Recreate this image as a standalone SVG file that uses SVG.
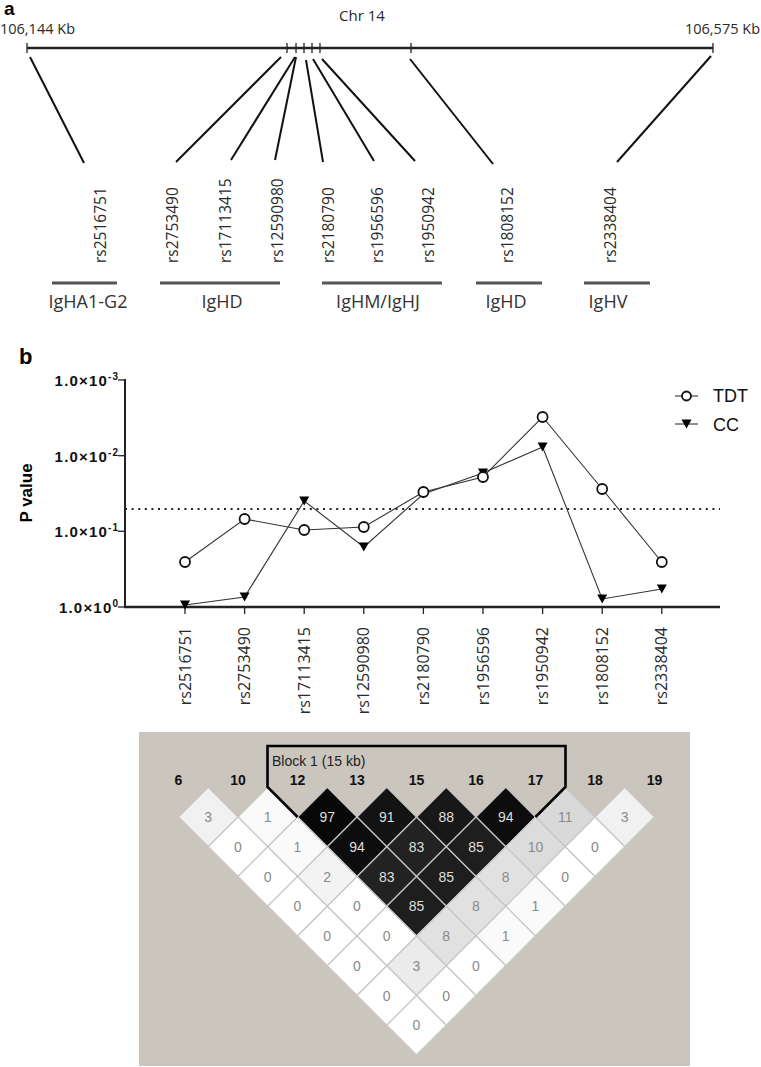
<svg xmlns="http://www.w3.org/2000/svg" xmlns:xlink="http://www.w3.org/1999/xlink" width="761" height="1067" viewBox="0 0 761 1067">
<style>
.lbl{font-family:"Open Sans","Liberation Sans",sans-serif;fill:#2a2a2a}
.snp{font-size:15.5px}
.gene{font-size:18px;fill:#333;text-anchor:middle}
.panel{font-family:"Liberation Sans",Arial,sans-serif;font-weight:bold;fill:#000}
.ytk{font-family:"Liberation Sans",Arial,sans-serif;font-weight:bold;font-size:15px;letter-spacing:1.2px;text-anchor:end;fill:#111}
.sup{font-size:10px;letter-spacing:1px}
.conn{stroke:#111;stroke-width:2;fill:none}
.tick{stroke:#222;stroke-width:1.3}
.gbar{stroke:#555;stroke-width:3}
.data{stroke:#333;stroke-width:1.1;fill:none}
.circ{fill:#fff;stroke:#111;stroke-width:1.8}
.mk{font-family:"Liberation Sans",Arial,sans-serif;font-weight:bold;font-size:14px;text-anchor:middle;fill:#111}
.ldw{font-family:"Liberation Sans",Arial,sans-serif;font-size:14px;text-anchor:middle;fill:#8a8a8a}
.ldb{font-family:"Liberation Sans",Arial,sans-serif;font-size:14px;text-anchor:middle;fill:#dedede}
.cell{stroke:#c6c6c6;stroke-width:1.2}
</style>
<defs>
<path id="dm" d="M0,-29.75 L29.75,0 L0,29.75 L-29.75,0Z"/>
<path id="tri" d="M-5,-4.5 L5,-4.5 L0,4.5Z" fill="#000"/>
</defs>
<rect width="761" height="1067" fill="#fff"/>

<!-- Panel a -->
<g id="panel-a">
<text class="panel" x="4" y="15" font-size="19">a</text>
<text class="lbl" x="362" y="21" font-size="15" text-anchor="middle" fill="#333">Chr 14</text>
<text class="lbl" x="0" y="34" font-size="14.5" fill="#555">106,144 Kb</text>
<text class="lbl" x="760" y="34" font-size="14.5" fill="#555" text-anchor="end">106,575 Kb</text>
<g id="chromosome">
<line x1="27" y1="48" x2="713" y2="48" stroke="#222" stroke-width="2.6"/>
<line class="tick" x1="27" y1="43" x2="27" y2="53"/>
<line class="tick" x1="287" y1="43" x2="287" y2="53"/>
<line class="tick" x1="296" y1="43" x2="296" y2="53"/>
<line class="tick" x1="304" y1="43" x2="304" y2="53"/>
<line class="tick" x1="312" y1="43" x2="312" y2="53"/>
<line class="tick" x1="320" y1="43" x2="320" y2="53"/>
<line class="tick" x1="411" y1="43" x2="411" y2="53"/>
<line class="tick" x1="713" y1="43" x2="713" y2="53"/>
</g>
<g id="connectors-a">
<line class="conn" x1="30" y1="57" x2="84" y2="163"/>
<line class="conn" x1="281" y1="57" x2="176" y2="162"/>
<line class="conn" x1="295" y1="57" x2="231" y2="160"/>
<line class="conn" x1="296" y1="57" x2="275" y2="160"/>
<line class="conn" x1="306" y1="60" x2="323" y2="162"/>
<line class="conn" x1="313" y1="59" x2="374" y2="161"/>
<line class="conn" x1="322" y1="59" x2="415" y2="161"/>
<line class="conn" x1="410" y1="59" x2="493" y2="164"/>
<line class="conn" x1="711" y1="56" x2="617" y2="162"/>
</g>
<g id="snp-labels-a" class="lbl snp">
<text transform="translate(105.5,263) rotate(-90)">rs2516751</text>
<text transform="translate(177.5,263) rotate(-90)">rs2753490</text>
<text transform="translate(230.5,263) rotate(-90)">rs17113415</text>
<text transform="translate(282.5,263) rotate(-90)">rs12590980</text>
<text transform="translate(333.5,263) rotate(-90)">rs2180790</text>
<text transform="translate(382.5,263) rotate(-90)">rs1956596</text>
<text transform="translate(433.5,263) rotate(-90)">rs1950942</text>
<text transform="translate(512.5,263) rotate(-90)">rs1808152</text>
<text transform="translate(615.5,263) rotate(-90)">rs2338404</text>
</g>
<g id="genes">
<g id="gene-IgHA1-G2"><line class="gbar" x1="52" y1="283" x2="117" y2="283"/><text class="lbl gene" x="88" y="308">IgHA1-G2</text></g>
<g id="gene-IgHD-1"><line class="gbar" x1="160" y1="283" x2="280" y2="283"/><text class="lbl gene" x="222" y="308">IgHD</text></g>
<g id="gene-IgHM-IgHJ"><line class="gbar" x1="322" y1="283" x2="442" y2="283"/><text class="lbl gene" x="378" y="308">IgHM/IgHJ</text></g>
<g id="gene-IgHD-2"><line class="gbar" x1="476" y1="283" x2="542" y2="283"/><text class="lbl gene" x="506" y="308">IgHD</text></g>
<g id="gene-IgHV"><line class="gbar" x1="584" y1="283" x2="650" y2="283"/><text class="lbl gene" x="608" y="308">IgHV</text></g>
</g>
</g>

<!-- Panel b -->
<g id="panel-b">
<text class="panel" x="19" y="364" font-size="22">b</text>
<g id="axes">
<line x1="125" y1="379" x2="125" y2="608" stroke="#222" stroke-width="2"/>
<line x1="124" y1="607" x2="720" y2="607" stroke="#222" stroke-width="2.6"/>
<line class="tick" x1="118" y1="380" x2="125" y2="380"/>
<line class="tick" x1="118" y1="455.7" x2="125" y2="455.7"/>
<line class="tick" x1="118" y1="531.3" x2="125" y2="531.3"/>
<line class="tick" x1="118" y1="607" x2="125" y2="607"/>
<g id="xticks">
<line class="tick" x1="185" y1="607" x2="185" y2="614"/>
<line class="tick" x1="244.6" y1="607" x2="244.6" y2="614"/>
<line class="tick" x1="304.2" y1="607" x2="304.2" y2="614"/>
<line class="tick" x1="363.8" y1="607" x2="363.8" y2="614"/>
<line class="tick" x1="423.4" y1="607" x2="423.4" y2="614"/>
<line class="tick" x1="483" y1="607" x2="483" y2="614"/>
<line class="tick" x1="542.6" y1="607" x2="542.6" y2="614"/>
<line class="tick" x1="602.2" y1="607" x2="602.2" y2="614"/>
<line class="tick" x1="661.8" y1="607" x2="661.8" y2="614"/>
</g>
<text class="ytk" x="119" y="386">1.0×10<tspan class="sup" dy="-6">-3</tspan></text>
<text class="ytk" x="119" y="461.7">1.0×10<tspan class="sup" dy="-6">-2</tspan></text>
<text class="ytk" x="119" y="537.3">1.0×10<tspan class="sup" dy="-6">-1</tspan></text>
<text class="ytk" x="119" y="613">1.0×10<tspan class="sup" dy="-6">0</tspan></text>
<text class="panel" font-size="17" text-anchor="middle" transform="translate(32,493) rotate(-90)">P value</text>
</g>
<line id="threshold" x1="125" y1="509" x2="720" y2="509" stroke="#222" stroke-width="2" stroke-dasharray="2,4.6"/>
<g id="series-CC">
<polyline class="data" points="185,605 244.6,597 304.2,501 363.8,547 423.4,494 483,473 542.6,447 602.2,599 661.8,589"/>
<use xlink:href="#tri" x="185" y="605"/>
<use xlink:href="#tri" x="244.6" y="597"/>
<use xlink:href="#tri" x="304.2" y="501"/>
<use xlink:href="#tri" x="363.8" y="547"/>
<use xlink:href="#tri" x="423.4" y="494"/>
<use xlink:href="#tri" x="483" y="473"/>
<use xlink:href="#tri" x="542.6" y="447"/>
<use xlink:href="#tri" x="602.2" y="599"/>
<use xlink:href="#tri" x="661.8" y="589"/>
</g>
<g id="series-TDT">
<polyline class="data" points="185,562 244.6,519 304.2,530 363.8,527 423.4,492 483,477 542.6,417 602.2,489 661.8,562"/>
<circle class="circ" cx="185" cy="562" r="5"/>
<circle class="circ" cx="244.6" cy="519" r="5"/>
<circle class="circ" cx="304.2" cy="530" r="5"/>
<circle class="circ" cx="363.8" cy="527" r="5"/>
<circle class="circ" cx="423.4" cy="492" r="5"/>
<circle class="circ" cx="483" cy="477" r="5"/>
<circle class="circ" cx="542.6" cy="417" r="5"/>
<circle class="circ" cx="602.2" cy="489" r="5"/>
<circle class="circ" cx="661.8" cy="562" r="5"/>
</g>
<g id="legend">
<line class="data" x1="675" y1="396" x2="698" y2="396"/>
<circle class="circ" cx="686.5" cy="396" r="4.5"/>
<text x="713" y="402" font-family="Liberation Sans,Arial,sans-serif" font-size="18" fill="#111">TDT</text>
<line class="data" x1="675" y1="424" x2="698" y2="424"/>
<use xlink:href="#tri" x="686.5" y="424"/>
<text x="713" y="431" font-family="Liberation Sans,Arial,sans-serif" font-size="18" fill="#111">CC</text>
</g>
<g id="snp-labels-b" class="lbl" font-size="16" text-anchor="end">
<text transform="translate(190.5,627) rotate(-90)">rs2516751</text>
<text transform="translate(250.1,627) rotate(-90)">rs2753490</text>
<text transform="translate(309.7,627) rotate(-90)">rs17113415</text>
<text transform="translate(369.3,627) rotate(-90)">rs12590980</text>
<text transform="translate(428.9,627) rotate(-90)">rs2180790</text>
<text transform="translate(488.5,627) rotate(-90)">rs1956596</text>
<text transform="translate(548.1,627) rotate(-90)">rs1950942</text>
<text transform="translate(607.7,627) rotate(-90)">rs1808152</text>
<text transform="translate(667.3,627) rotate(-90)">rs2338404</text>
</g>
</g>

<!-- LD plot -->
<g id="ld-plot">
<rect x="139" y="732" width="551" height="334" fill="#cac6bd"/>
<g id="markers">
<text class="mk" x="178.5" y="785">6</text>
<text class="mk" x="238" y="785">10</text>
<text class="mk" x="297.5" y="785">12</text>
<text class="mk" x="357" y="785">13</text>
<text class="mk" x="416.5" y="785">15</text>
<text class="mk" x="476" y="785">16</text>
<text class="mk" x="535.5" y="785">17</text>
<text class="mk" x="595" y="785">18</text>
<text class="mk" x="654.5" y="785">19</text>
</g>
<g id="cells" class="cell">
<use xlink:href="#dm" x="208.25" y="817" fill="#f1f1f1"/>
<use xlink:href="#dm" x="267.75" y="817" fill="#fafafa"/>
<use xlink:href="#dm" x="327.25" y="817" fill="#080808"/>
<use xlink:href="#dm" x="386.75" y="817" fill="#131313"/>
<use xlink:href="#dm" x="446.25" y="817" fill="#181818"/>
<use xlink:href="#dm" x="505.75" y="817" fill="#0d0d0d"/>
<use xlink:href="#dm" x="565.25" y="817" fill="#d9d9d9"/>
<use xlink:href="#dm" x="624.75" y="817" fill="#f1f1f1"/>
<use xlink:href="#dm" x="238" y="846.75" fill="#ffffff"/>
<use xlink:href="#dm" x="297.5" y="846.75" fill="#fafafa"/>
<use xlink:href="#dm" x="357" y="846.75" fill="#0d0d0d"/>
<use xlink:href="#dm" x="416.5" y="846.75" fill="#222222"/>
<use xlink:href="#dm" x="476" y="846.75" fill="#1e1e1e"/>
<use xlink:href="#dm" x="535.5" y="846.75" fill="#dcdcdc"/>
<use xlink:href="#dm" x="595" y="846.75" fill="#ffffff"/>
<use xlink:href="#dm" x="267.75" y="876.5" fill="#ffffff"/>
<use xlink:href="#dm" x="327.25" y="876.5" fill="#f3f3f3"/>
<use xlink:href="#dm" x="386.75" y="876.5" fill="#222222"/>
<use xlink:href="#dm" x="446.25" y="876.5" fill="#1e1e1e"/>
<use xlink:href="#dm" x="505.75" y="876.5" fill="#e1e1e1"/>
<use xlink:href="#dm" x="565.25" y="876.5" fill="#ffffff"/>
<use xlink:href="#dm" x="297.5" y="906.25" fill="#ffffff"/>
<use xlink:href="#dm" x="357" y="906.25" fill="#ffffff"/>
<use xlink:href="#dm" x="416.5" y="906.25" fill="#1e1e1e"/>
<use xlink:href="#dm" x="476" y="906.25" fill="#e1e1e1"/>
<use xlink:href="#dm" x="535.5" y="906.25" fill="#fafafa"/>
<use xlink:href="#dm" x="327.25" y="936" fill="#ffffff"/>
<use xlink:href="#dm" x="386.75" y="936" fill="#ffffff"/>
<use xlink:href="#dm" x="446.25" y="936" fill="#e1e1e1"/>
<use xlink:href="#dm" x="505.75" y="936" fill="#fafafa"/>
<use xlink:href="#dm" x="357" y="965.75" fill="#ffffff"/>
<use xlink:href="#dm" x="416.5" y="965.75" fill="#ebebeb"/>
<use xlink:href="#dm" x="476" y="965.75" fill="#ffffff"/>
<use xlink:href="#dm" x="386.75" y="995.5" fill="#ffffff"/>
<use xlink:href="#dm" x="446.25" y="995.5" fill="#ffffff"/>
<use xlink:href="#dm" x="416.5" y="1025.25" fill="#ffffff"/>
</g>
<g id="cell-values">
<text class="ldw" x="208.25" y="822">3</text>
<text class="ldw" x="267.75" y="822">1</text>
<text class="ldb" x="327.25" y="822">97</text>
<text class="ldb" x="386.75" y="822">91</text>
<text class="ldb" x="446.25" y="822">88</text>
<text class="ldb" x="505.75" y="822">94</text>
<text class="ldw" x="565.25" y="822">11</text>
<text class="ldw" x="624.75" y="822">3</text>
<text class="ldw" x="238" y="851.75">0</text>
<text class="ldw" x="297.5" y="851.75">1</text>
<text class="ldb" x="357" y="851.75">94</text>
<text class="ldb" x="416.5" y="851.75">83</text>
<text class="ldb" x="476" y="851.75">85</text>
<text class="ldw" x="535.5" y="851.75">10</text>
<text class="ldw" x="595" y="851.75">0</text>
<text class="ldw" x="267.75" y="881.5">0</text>
<text class="ldw" x="327.25" y="881.5">2</text>
<text class="ldb" x="386.75" y="881.5">83</text>
<text class="ldb" x="446.25" y="881.5">85</text>
<text class="ldw" x="505.75" y="881.5">8</text>
<text class="ldw" x="565.25" y="881.5">0</text>
<text class="ldw" x="297.5" y="911.25">0</text>
<text class="ldw" x="357" y="911.25">0</text>
<text class="ldb" x="416.5" y="911.25">85</text>
<text class="ldw" x="476" y="911.25">8</text>
<text class="ldw" x="535.5" y="911.25">1</text>
<text class="ldw" x="327.25" y="941">0</text>
<text class="ldw" x="386.75" y="941">0</text>
<text class="ldw" x="446.25" y="941">8</text>
<text class="ldw" x="505.75" y="941">1</text>
<text class="ldw" x="357" y="970.75">0</text>
<text class="ldw" x="416.5" y="970.75">3</text>
<text class="ldw" x="476" y="970.75">0</text>
<text class="ldw" x="386.75" y="1000.5">0</text>
<text class="ldw" x="446.25" y="1000.5">0</text>
<text class="ldw" x="416.5" y="1030.25">0</text>
</g>
<g id="block-1">
<polyline points="297.5,817 267.5,787 267.5,746 565.5,746 565.5,787 535.5,817" fill="none" stroke="#000" stroke-width="2.6" stroke-linejoin="miter"/>
<text x="272" y="766" font-family="Liberation Sans,Arial,sans-serif" font-size="14" fill="#222">Block 1 (15 kb)</text>
</g>
</g>
</svg>
